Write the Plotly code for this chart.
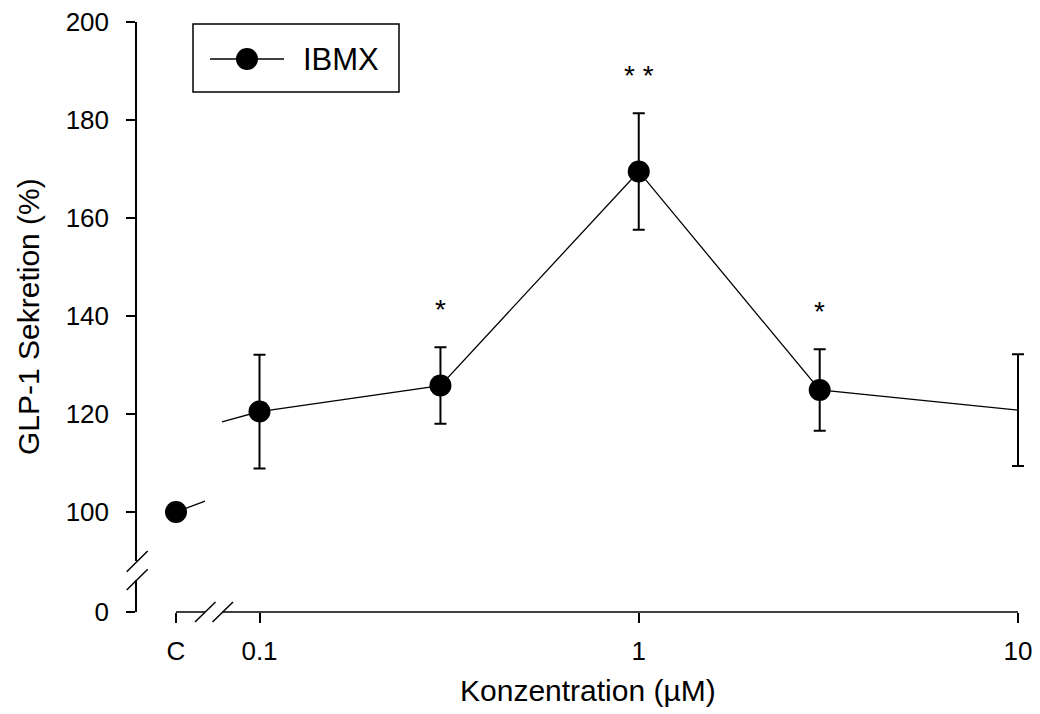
import math
import plotly.graph_objects as go

# ---------------- data ----------------
conc = [0.1, 0.3, 1, 3, 10]                 # µM
mean = [120.5, 125.8, 169.5, 124.9, 120.8]  # GLP-1 secretion (%)
sem = [11.6, 7.8, 11.9, 8.3, 11.4]
signif = ["", "*", "* *", "*", ""]
control_label = "C"
control_mean = 100
series_name = "IBMX"
x_tick_vals = [0.1, 1, 10]
x_tick_text = ["0.1", "1", "10"]
y_tick_vals = [100, 120, 140, 160, 180, 200]
low_tick_vals = [0]

# ---------------- layout constants (pixels) ----------------
W, H = 1040, 714
L, R, T, B = 137, 1018, 22, 612   # R = x-axis end (10 µM)
R_PLOT = 1032                     # plot area extends a little past the axis end
PW, PH = R_PLOT - L, B - T
DEC = 379.25                      # px per decade
X_LO = -1 - (259.5 - L) / DEC     # log10 of left edge
X_HI = 1.0 + (R_PLOT - R) / DEC
X_C = 10 ** (-1 - (259.5 - 176) / DEC)   # axis position used for the control
Y_BREAK_TOP = 561                 # px where upper y segment ends
Y_BREAK_LOW = 580                 # px where lower y segment starts
Y_PX_PER_UNIT = 4.9
Y_MAIN_LO = 200 - (Y_BREAK_TOP - T) / Y_PX_PER_UNIT
# connector stubs across the x-axis break (axis positions, values)
STUB1 = ([X_C, 10 ** -1.1437], [control_mean, 102.2])
STUB2 = ([10 ** -1.0989, conc[0]], [118.4, mean[0]])

FONT = "Liberation Sans, Arial, sans-serif"
LW = 1.5
MS = 22


def xp(px):
    return (px - L) / PW


def yp(py):
    return (B - py) / PH


fig = go.Figure()

# main series line + error bars
fig.add_trace(go.Scatter(
    x=conc, y=mean, mode="lines", name=series_name,
    line=dict(color="black", width=1.3),
    error_y=dict(type="data", array=sem, visible=True, color="black",
                 thickness=2, width=6),
    cliponaxis=False, showlegend=False,
))
# connector stubs around the break
for sx, sy in (STUB1, STUB2):
    fig.add_trace(go.Scatter(x=sx, y=sy, mode="lines",
                             line=dict(color="black", width=1.3),
                             showlegend=False, hoverinfo="skip"))
# markers (control + concentrations; the 10 µM point shows no symbol)
fig.add_trace(go.Scatter(
    x=[X_C] + conc[:-1], y=[control_mean] + mean[:-1], mode="markers",
    marker=dict(color="black", size=MS, line=dict(width=0)),
    cliponaxis=False, showlegend=False,
))
# lower (broken) axis segment needs a trace to exist
fig.add_trace(go.Scatter(x=[None], y=[None], xaxis="x", yaxis="y2",
                         mode="markers", showlegend=False, hoverinfo="skip"))

# significance stars
for c, m, s, t in zip(conc, mean, sem, signif):
    if t:
        fig.add_annotation(x=math.log10(c), y=m + s, xref="x", yref="y",
                           text=t, showarrow=False, yshift=38,
                           font=dict(family=FONT, size=28, color="black"))

shapes = []
line = dict(color="black", width=LW)
# x axis line with break
shapes.append(dict(type="line", xref="paper", yref="paper",
                   x0=xp(176), x1=xp(205), y0=yp(B), y1=yp(B), line=line))
shapes.append(dict(type="line", xref="paper", yref="paper",
                   x0=xp(222), x1=xp(R), y0=yp(B), y1=yp(B), line=line))
for a in (195, 212.5):
    shapes.append(dict(type="line", xref="paper", yref="paper",
                       x0=xp(a), y0=yp(622), x1=xp(a + 20.5), y1=yp(602), line=line))
# y axis break slashes
for b in (571.7, 590):
    shapes.append(dict(type="line", xref="paper", yref="paper",
                       x0=xp(126.7), y0=yp(b), x1=xp(147.7), y1=yp(b - 20.7), line=line))
# legend box
shapes.append(dict(type="rect", xref="paper", yref="paper",
                   x0=xp(193), x1=xp(399), y0=yp(24), y1=yp(92), line=line))
shapes.append(dict(type="line", xref="paper", yref="paper",
                   x0=xp(210), x1=xp(284), y0=yp(59), y1=yp(59),
                   line=dict(color="black", width=1.3)))
shapes.append(dict(type="circle", xref="paper", yref="paper",
                   x0=xp(247 - MS / 2), x1=xp(247 + MS / 2),
                   y0=yp(59 + MS / 2), y1=yp(59 - MS / 2),
                   fillcolor="black", line=dict(color="black", width=0)))

fig.add_annotation(x=xp(301), y=yp(59), xref="paper", yref="paper",
                   xanchor="left", yanchor="middle", showarrow=False,
                   text=series_name, font=dict(family=FONT, size=31, color="black"))
# y axis title
fig.add_annotation(x=xp(28), y=yp(317), xref="paper", yref="paper",
                   textangle=-90, showarrow=False, xanchor="center", yanchor="middle",
                   text="GLP-1 Sekretion (%)",
                   font=dict(family=FONT, size=30, color="black"))
# x axis title
fig.add_annotation(x=xp(588), y=yp(690), xref="paper", yref="paper",
                   showarrow=False, xanchor="center", yanchor="middle",
                   text="Konzentration (µM)",
                   font=dict(family=FONT, size=30, color="black"))

axis_common = dict(ticks="outside", tickcolor="black", tickwidth=LW,
                   showgrid=False, zeroline=False,
                   tickfont=dict(family=FONT, size=26, color="black"))

fig.update_layout(
    width=W, height=H,
    margin=dict(l=L, r=W - R_PLOT, t=T, b=H - B, autoexpand=False),
    paper_bgcolor="white", plot_bgcolor="white",
    showlegend=False,
    font=dict(family=FONT, color="black"),
    shapes=shapes,
    xaxis=dict(type="log", range=[X_LO, X_HI], anchor="y2",
               tickvals=[X_C] + x_tick_vals,
               ticktext=[control_label] + x_tick_text,
               ticklen=10, showline=False, ticklabelstandoff=6,
               **axis_common),
    yaxis=dict(domain=[yp(Y_BREAK_TOP), 1], range=[Y_MAIN_LO, 200],
               tickvals=y_tick_vals, ticklen=9, showline=True,
               linecolor="black", linewidth=LW, anchor="x",
               ticklabelstandoff=12, **axis_common),
    yaxis2=dict(domain=[0, yp(Y_BREAK_LOW)], range=[0, 10],
                tickvals=low_tick_vals, ticklen=9, showline=True,
                linecolor="black", linewidth=LW, anchor="x",
                ticklabelstandoff=12, **axis_common),
)

fig.write_html("out.html", config={"displayModeBar": False},
               post_script="document.body.style.margin='0';")
